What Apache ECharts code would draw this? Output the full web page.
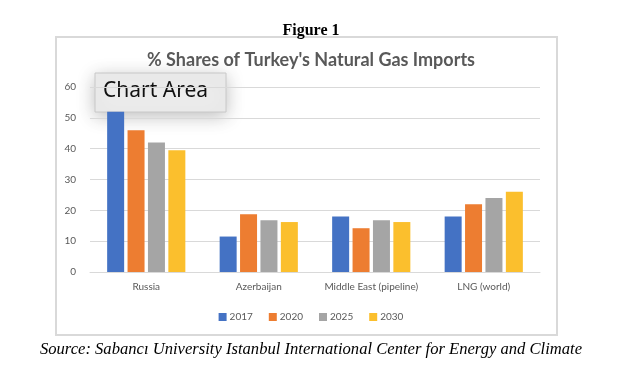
<!DOCTYPE html>
<html><head><meta charset="utf-8">
<script src="https://cdn.jsdelivr.net/npm/echarts@6/dist/echarts.min.js"></script>
<style>html,body{margin:0;padding:0;background:#fff}#c{width:622px;height:370px}</style>
</head><body><div id="c"></div>
<script>
var categories = ['Russia', 'Azerbaijan', 'Middle East (pipeline)', 'LNG (world)'];
var seriesNames = ['2017', '2020', '2025', '2030'];
var v2017 = [52, 11.5, 18, 18];
var v2020 = [46, 18.7, 14.2, 22];
var v2025 = [42, 16.8, 16.8, 24];
var v2030 = [39.5, 16.2, 16.2, 26];
var yTicks = [0, 10, 20, 30, 40, 50, 60];
var colors = ['#4472C4', '#ED7D31', '#A5A5A5', '#FBBF2D'];
var values = [v2017, v2020, v2025, v2030];

var chart = echarts.init(document.getElementById('c'), null, {renderer: 'canvas'});
var series = seriesNames.map(function (n, i) {
  return {
    name: n, type: 'bar', data: values[i], barWidth: 17, barGap: '20%',
    itemStyle: {color: colors[i]}, z: 2
  };
});
chart.setOption({
  animation: false,
  backgroundColor: '#fff',
  title: [
    {text: 'Figure 1', left: 'center', top: 18,
     textStyle: {fontFamily: 'Liberation Serif', fontWeight: 'bold', fontSize: 16, color: '#000'}},
    {text: "% Shares of Turkey's Natural Gas Imports", left: 'center', top: 46,
     textStyle: {fontFamily: 'Lato', fontWeight: 'bold', fontSize: 18, color: '#595959'}},
    {text: 'Source: Sabancı University Istanbul International Center for Energy and Climate', left: 'center', top: 336,
     textStyle: {fontFamily: 'Liberation Serif', fontStyle: 'italic', fontWeight: 'normal', fontSize: 16.6, color: '#000'}}
  ],
  grid: {left: 90, right: 82, top: 87, bottom: 98, containLabel: false},
  legend: {
    data: seriesNames, top: 307, left: 'center', itemWidth: 8, itemHeight: 8, itemGap: 16,
    icon: 'rect', textStyle: {fontSize: 10, color: '#595959', fontFamily: 'Lato', padding: [0, 0, 0, -2]}
  },
  xAxis: {
    type: 'category', data: categories,
    axisLine: {lineStyle: {color: '#d9d9d9', width: 1}},
    axisTick: {show: false},
    axisLabel: {interval: 0, color: '#595959', fontSize: 10, fontFamily: 'Lato', margin: 10}
  },
  yAxis: {
    type: 'value', min: 0, max: 60, interval: 10,
    axisLine: {show: false}, axisTick: {show: false},
    axisLabel: {color: '#595959', fontSize: 10, fontFamily: 'Lato', margin: 14,
      formatter: function (v) { return yTicks.indexOf(v) >= 0 ? String(v) : ''; }},
    splitLine: {lineStyle: {color: '#d9d9d9', width: 1}}
  },
  series: series,
  graphic: [
    {type: 'rect', shape: {x: 56, y: 37, width: 501, height: 298}, style: {fill: 'none', stroke: '#d9d9d9', lineWidth: 2}, z: 0, silent: true},
    {type: 'group', z: 100, children: [
      {type: 'rect', shape: {x: 95, y: 73, width: 131, height: 39},
       style: {fill: '#ececec', stroke: '#c8c8c8', lineWidth: 1, shadowBlur: 18, shadowColor: 'rgba(0,0,0,0.25)', shadowOffsetY: 4}},
      {type: 'text', x: 103, y: 81, style: {text: 'Chart Area', fontSize: 21, fontFamily: 'Noto Sans', fill: '#111'}}
    ]}
  ]
});
</script></body></html>
